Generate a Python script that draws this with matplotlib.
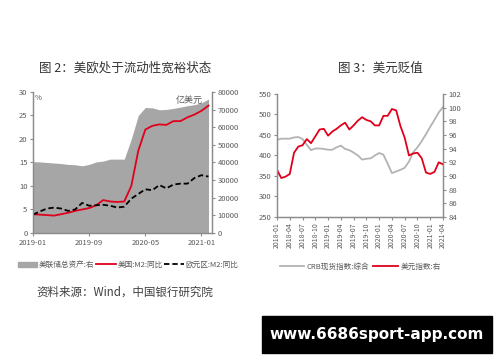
import matplotlib
matplotlib.use("Agg")
import matplotlib.pyplot as plt
from matplotlib.lines import Line2D
from matplotlib.patches import Patch, Rectangle

plt.rcParams['font.family'] = ['Noto Sans CJK SC', 'DejaVu Sans']

# ---- 图2 data: 2019-01 .. 2021-02, monthly ----
left_months = ['2019-01', '2019-02', '2019-03', '2019-04', '2019-05', '2019-06',
               '2019-07', '2019-08', '2019-09', '2019-10', '2019-11', '2019-12',
               '2020-01', '2020-02', '2020-03', '2020-04', '2020-05', '2020-06',
               '2020-07', '2020-08', '2020-09', '2020-10', '2020-11', '2020-12',
               '2021-01', '2021-02']
fed_assets = [40500, 40300, 40000, 39700, 39400, 38900, 38700, 38100, 38900, 40300,
              40800, 41900, 41900, 41900, 53300, 66700, 71200, 71000, 69900, 70100,
              70700, 71400, 72200, 72800, 73800, 76000]
us_m2 = [4.0, 3.9, 3.8, 3.7, 4.0, 4.3, 4.7, 5.0, 5.3, 5.9, 7.0, 6.7, 6.6, 6.7,
         10.0, 17.5, 22.0, 22.8, 23.1, 23.0, 23.8, 23.8, 24.6, 25.2, 26.0, 27.1]
euro_m2 = [3.9, 4.6, 5.2, 5.4, 5.2, 4.7, 5.0, 6.4, 5.8, 5.9, 6.0, 5.8, 5.4, 5.6,
           7.3, 8.3, 9.3, 9.1, 10.2, 9.5, 10.3, 10.5, 10.5, 11.7, 12.3, 12.0]
left_ticklabels = ['2019-01', '2019-09', '2020-05', '2021-01']

# ---- 图3 data: 2018-01 .. 2021-04, monthly ----
right_ticklabels = ['2018-01', '2018-04', '2018-07', '2018-10', '2019-01', '2019-04',
                    '2019-07', '2019-10', '2020-01', '2020-04', '2020-07', '2020-10',
                    '2021-01', '2021-04']
crb = [438, 441, 441, 441, 444, 445, 440, 426, 413, 417, 417, 416, 414, 414, 420,
       424, 416, 413, 407, 400, 390, 392, 393, 400, 406, 402, 380, 357, 361, 365,
       370, 385, 408, 420, 435, 452, 470, 487, 505, 518]
dxy = [90.9, 89.7, 89.9, 90.3, 93.4, 94.3, 94.5, 95.4, 94.8, 95.8, 96.8, 96.9,
       95.9, 96.5, 96.9, 97.4, 97.8, 96.8, 97.4, 98.1, 98.6, 98.2, 98.0, 97.4,
       97.4, 98.8, 98.8, 99.8, 99.6, 97.3, 95.6, 93.0, 93.3, 93.4, 92.6, 90.5,
       90.3, 90.6, 92.0, 91.7]

RED = '#e0001b'
AREA = '#a6a6a6'
SPINE = '#8c8c8c'
TXT = '#595959'


def style_axes(ax, twin):
    for a in (ax, twin):
        for s in a.spines.values():
            s.set_color(SPINE)
            s.set_linewidth(0.9)
        a.spines['top'].set_visible(False)
        a.tick_params(colors=SPINE, labelcolor=TXT, labelsize=5.5, length=2.5,
                      width=0.8, pad=1.5)


fig = plt.figure(figsize=(5, 3.62), dpi=100)

# ---------------- 图2 ----------------
ax = fig.add_axes([0.066, 0.3564, 0.358, 0.3895])
ax2 = ax.twinx()
x = list(range(len(left_months)))
ax2.fill_between(x, 0, fed_assets, color=AREA, lw=0)
ax.plot(x, us_m2, color=RED, lw=1.3)
ax.plot(x, euro_m2, color='black', lw=1.3, dashes=(3, 1.6))
ax.set_zorder(ax2.get_zorder() + 1)
ax.patch.set_visible(False)

ax.set_xlim(0, 25.5)
ax.set_ylim(0, 30)
ax.set_yticks(range(0, 31, 5))
ax2.set_ylim(0, 80000)
ax2.set_yticks(range(0, 80001, 10000))
ax.set_xticks([left_months.index(m) for m in left_ticklabels])
ax.set_xticklabels(left_ticklabels)
style_axes(ax, ax2)
ax.text(0.01, 0.985, '%', transform=ax.transAxes, fontsize=5.5, color=TXT,
        va='top', ha='left')
ax.text(0.95, 0.975, '亿美元', transform=ax.transAxes, fontsize=6.5, color=TXT,
        va='top', ha='right')

fig.text(0.25, 0.812, '图 2：美欧处于流动性宽裕状态', ha='center', va='center',
         fontsize=9, color='#333333')
h1 = [Patch(color=AREA), Line2D([], [], color=RED, lw=1.3),
      Line2D([], [], color='black', lw=1.3, dashes=(3, 1.6))]
fig.legend(h1, ['美联储总资产:右', '美国:M2:同比', '欧元区:M2:同比'],
           loc='center', bbox_to_anchor=(0.256, 0.268), ncol=3, frameon=False,
           fontsize=5.5, handlelength=2.6, handleheight=0.6, columnspacing=0.2,
           handletextpad=0.2, labelcolor=TXT)
fig.text(0.25, 0.193, '资料来源：Wind，中国银行研究院', ha='center', va='center',
         fontsize=8.3, color='#404040')

# ---------------- 图3 ----------------
bx = fig.add_axes([0.554, 0.4006, 0.332, 0.3398])
bx2 = bx.twinx()
xr = list(range(len(crb)))
bx.plot(xr, crb, color='#b3b3b3', lw=1.3)
bx2.plot(xr, dxy, color=RED, lw=1.3)
bx.set_xlim(0, 39)
bx.set_ylim(250, 550)
bx.set_yticks(range(250, 551, 50))
bx2.set_ylim(84, 102)
bx2.set_yticks(range(84, 103, 2))
bx.set_xticks(range(0, 40, 3))
bx.set_xticklabels(right_ticklabels, rotation=90)
style_axes(bx, bx2)
bx.tick_params(axis='x', labelsize=5)

fig.text(0.76, 0.812, '图 3：美元贬值', ha='center', va='center',
         fontsize=9, color='#333333')
h2 = [Line2D([], [], color='#b3b3b3', lw=1.3), Line2D([], [], color=RED, lw=1.3)]
fig.legend(h2, ['CRB现货指数:综合', '美元指数:右'], loc='center',
           bbox_to_anchor=(0.72, 0.262), ncol=2, frameon=False, fontsize=5.5,
           handlelength=3.2, columnspacing=0.6, handletextpad=0.3, labelcolor=TXT)

# watermark box
fig.patches.append(Rectangle((0.524, 0.025), 0.46, 0.102, transform=fig.transFigure,
                             color='black', zorder=5))
fig.text(0.754, 0.076, 'www.6686sport-app.com', ha='center', va='center',
         fontsize=11, color='white', weight='bold', zorder=6,
         family='DejaVu Sans')

fig.savefig('out.png', dpi=100)
